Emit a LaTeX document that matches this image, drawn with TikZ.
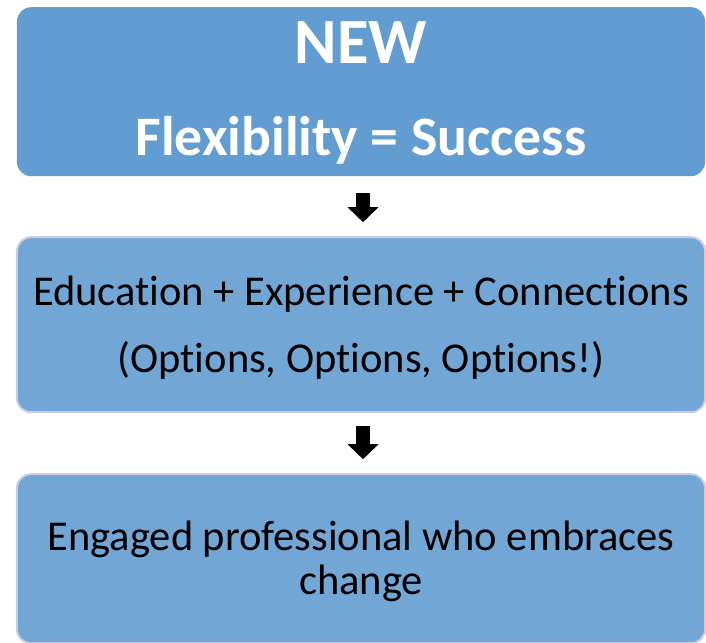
\documentclass[tikz,border=0pt]{standalone}
\usepackage{fontspec}
\setmainfont{Carlito}[Ligatures=NoCommon]
\usetikzlibrary{arrows.meta}

\definecolor{newblue}{RGB}{98,157,209}
\definecolor{stepblue}{RGB}{114,166,213}
\definecolor{rimgray}{RGB}{200,205,226}

\tikzstyle{newbox}=[
    rectangle,
    rounded corners=14pt,
    minimum width=688pt,
    minimum height=169pt,
    inner sep=0pt,
    outer sep=0pt,
    align=center,
    fill=newblue,
    text=white,
    font=\bfseries\fontsize{55.7}{92}\selectfont
]
\tikzstyle{stepbox}=[
    rectangle,
    rounded corners=14pt,
    minimum width=688pt,
    inner sep=0pt,
    outer sep=0pt,
    align=center,
    line width=2pt,
    draw=rimgray,
    fill=stepblue,
    font=\fontsize{42.5}{67}\selectfont
]

\begin{document}
\begin{tikzpicture}[x=1pt,y=1pt]
	\useasboundingbox (0,0) rectangle (706,-642);
	\matrix (flow) [row sep=60pt,inner sep=0pt,anchor=north] at (361,-7) {
		% NEW BOX
		\node (new) [newbox]{{\fontsize{64.5}{92}\selectfont\rule{0pt}{45pt}NEW}\\Flexibility = Success}; \\
		% MIX BOX
		\node (mix) [stepbox,minimum height=175pt]{\rule{0pt}{35pt}Education + Experience + Connections\\(Options, Options, Options!)}; \\
		% PRO BOX
		\node (pro) [stepbox,minimum height=169pt,font=\fontsize{42.5}{44.5}\selectfont]{\rule{0pt}{35pt}Engaged professional who embraces\\change}; \\
	};
	\path[-{Triangle[width=30pt,length=15pt]},line width=14pt]
	% Connections between boxes
	([xshift=2pt]new.south) edge[shorten <=17pt,shorten >=15pt] ([xshift=2pt]mix.north)
	([xshift=2pt]mix.south) edge[shorten <=14pt,shorten >=15pt] ([xshift=2pt]pro.north)
	;
\end{tikzpicture}
\end{document}
